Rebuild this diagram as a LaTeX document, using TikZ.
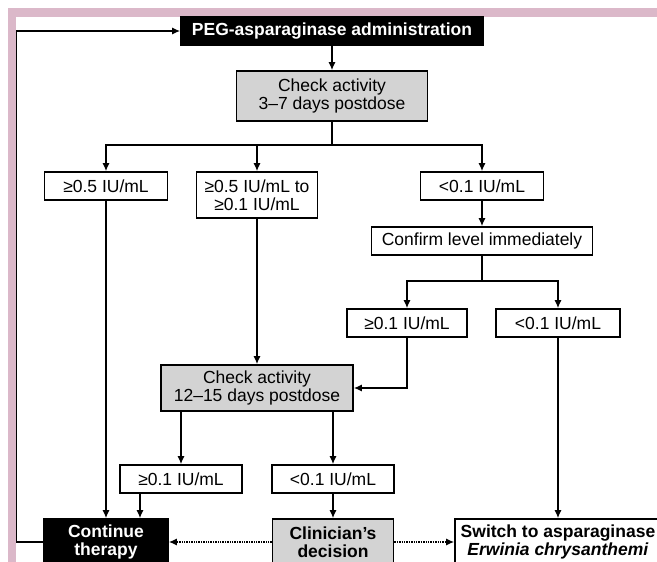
\documentclass[tikz,border=0pt]{standalone}
\usepackage{fontspec}
\setmainfont{Liberation Sans}
\usetikzlibrary{arrows.meta}
\definecolor{pinkband}{RGB}{219,184,201}
\definecolor{boxgray}{RGB}{211,211,211}
\tikzset{
  lvl/.style={draw=black,line width=1.6pt,fill=white,minimum height=28pt,inner sep=0pt,align=center,font=\fontsize{17.5}{18}\selectfont},
  chk/.style={lvl,fill=boxgray},
  bold/.style={font=\fontsize{17.5}{18}\selectfont\bfseries},
  blk/.style={lvl,bold,fill=black,text=white},
  ln/.style={line width=1.4pt},
  arr/.style={ln,-{Latex[length=8pt,width=7pt]}},
  dots/.style={arr,densely dotted}
}

\begin{document}
\begin{tikzpicture}[x=1pt,y=-1pt]
\useasboundingbox (0,0) rectangle (657,562);
\clip (0,0) rectangle (657,562);
\fill[pinkband] (8,8) rectangle (657,17);
\fill[pinkband] (8,8) rectangle (16,562);

% boxes
\node[blk,minimum width=302pt] (peg) at (332,31) {PEG-asparaginase administration};
\node[chk,minimum width=191pt,minimum height=50pt] (chk1) at (332,96) {Check activity\\3--7 days postdose};
\node[lvl,minimum width=123pt] (hi) at (106,186) {≥0.5 IU/mL};
\node[lvl,minimum width=121pt,minimum height=46pt] (mid) at (257,195) {≥0.5 IU/mL to\\≥0.1 IU/mL};
\node[lvl,minimum width=123pt] (low) at (482,186) {<0.1 IU/mL};
\node[lvl,minimum width=221pt] (conf) at (482,241) {Confirm level immediately};
\node[lvl,minimum width=120pt] (ok1) at (407,323) {≥0.1 IU/mL};
\node[lvl,minimum width=124pt] (no1) at (558,323) {<0.1 IU/mL};
\node[chk,minimum width=192pt,minimum height=46pt] (chk2) at (257,388) {Check activity\\12--15 days postdose};
\node[lvl,minimum width=122pt] (ok2) at (181,479) {≥0.1 IU/mL};
\node[lvl,minimum width=122pt] (no2) at (333,479) {<0.1 IU/mL};
\node[blk,minimum width=124pt,minimum height=46pt] (cont) at (106,542) {Continue\\therapy};
\node[chk,bold,minimum width=121pt,minimum height=46pt] (clin) at (333,542) {Clinician's\\decision};
\node[lvl,bold,minimum width=206pt,minimum height=46pt] (sw) at (558,542) {Switch to asparaginase\\\textit{Erwinia chrysanthemi}};

\coordinate (br1) at (332,145);
\coordinate (br2) at (482,281);
\coordinate (c6) at (140,493);

% connectors
\draw[arr] (peg.south) -- (chk1.north);
\draw[ln] (chk1.south) -- (br1);
\draw[arr] (br1) -| (hi.north);
\draw[arr] (br1) -| (mid.north);
\draw[arr] (br1) -| (low.north);
\draw[arr] (low.south) -- (conf.north);
\draw[ln] (conf.south) -- (br2);
\draw[arr] (br2) -| (ok1.north);
\draw[arr] (br2) -| (no1.north);
\draw[arr] (mid.south) -- (chk2.north);
\draw[arr] (ok1.south) |- (chk2.east);
\draw[arr] (chk2.south -| ok2.north) -- (ok2.north);
\draw[arr] (chk2.south -| no2.north) -- (no2.north);
\draw[arr] (hi.south) -- (cont.north);
\draw[arr] (c6) -- (c6 |- cont.north);
\draw[arr] (no2.south) -- (clin.north);
\draw[arr] (no1.south) -- (sw.north);
\draw[dots] (clin) -- (cont);
\draw[dots] (clin) -- (sw);
\draw[arr] (cont.west) -- ++(-27,0) |- (peg.west);

\end{tikzpicture}
\end{document}
